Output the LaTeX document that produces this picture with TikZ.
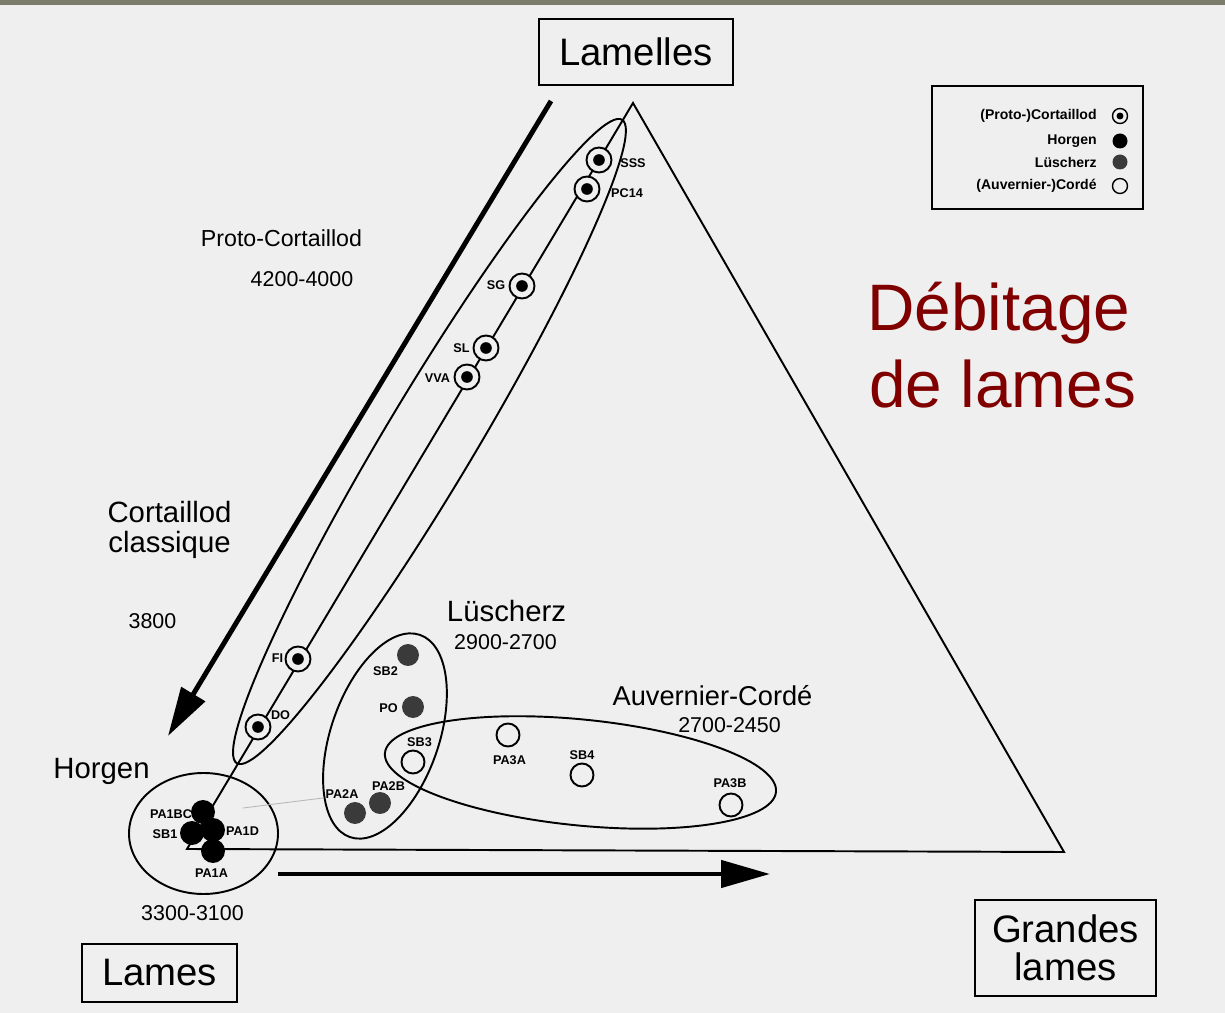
\documentclass[tikz,border=0pt]{standalone}
\usepackage{fontspec}
\setmainfont{Liberation Sans}
\usetikzlibrary{calc}
\usetikzlibrary{arrows.meta}
\usetikzlibrary{positioning}

\definecolor{pagegray}{HTML}{EFEFEF}
\definecolor{bargray}{HTML}{7B7C6C}
\definecolor{darkred}{HTML}{800000}
\definecolor{lusgray}{HTML}{3A3A3A}

\begin{document}
\begin{tikzpicture}[x=0.02cm, y=-0.02cm,
  pole/.style={draw, line width=1.1pt, inner sep=0pt, align=center, font=\fontsize{21.8}{21.5}\selectfont},
  cort/.style={circle, draw, fill=pagegray, line width=1.1pt, inner sep=0pt, minimum size=#1,
    path picture={\fill[black] (path picture bounding box.center) circle (#1/4.3);}},
  cort/.default=0.5cm,
  horg/.style={circle, fill=black, inner sep=0pt, minimum size=#1},
  horg/.default=0.48cm,
  lusc/.style={circle, fill=lusgray, inner sep=0pt, minimum size=#1},
  lusc/.default=0.44cm,
  corde/.style={circle, draw, fill=pagegray, line width=1.1pt, inner sep=0pt, minimum size=#1},
  corde/.default=0.46cm,
  site/.style={inner sep=0pt, font=\bfseries\fontsize{7.2}{8}\selectfont},
  period/.style={inner sep=0pt, anchor=base, font=\fontsize{16.7}{17}\selectfont},
  years/.style={inner sep=0pt, anchor=base, font=\fontsize{12.2}{13}\selectfont},
  legtext/.style={inner sep=0pt, anchor=east, font=\bfseries\fontsize{8}{9}\selectfont},
  zone/.style={line width=1.1pt},
  bigarrow/.style={line width=2.8pt, -{Triangle[length=0.98cm, width=0.54cm]}}]

% page
\fill[pagegray] (0,0) rectangle (1225,1013);
\fill[bargray] (0,0) rectangle (1225,5);
\useasboundingbox (0,0) rectangle (1225,1013);

% triangle
\coordinate (apex) at (633,103);
\coordinate (lame) at (187,849);
\coordinate (grande) at (1064,852);
\draw[line width=1.1pt] (apex) -- (lame) -- (grande) -- cycle;

\node[pole, minimum width=3.88cm, minimum height=1.32cm] (lamelles) at (636,52) {Lamelles};
\node[pole, minimum width=3.1cm, minimum height=1.16cm] (lames) at (159.5,973) {Lames};
\node[pole, minimum width=3.62cm, minimum height=1.92cm] (grandes) at (1065.5,948) {Grandes\\lames};

% groups
\coordinate (protoC) at (429.5,441.5);
\draw[zone, rotate around={59.1:(protoC)}] (protoC) ellipse (375 and 45);
\coordinate (horgC) at (203.5,833.5);
\draw[zone] (horgC) ellipse (74.5 and 60.5);
\coordinate (luscC) at (385,736);
\draw[zone, rotate around={70.9:(luscC)}] (luscC) ellipse (107 and 54);
\coordinate (cordC) at (580.5,772.5);
\draw[zone, rotate around={-5.7:(cordC)}] (cordC) ellipse (196.5 and 53);

\coordinate (faintA) at (243,808);
\coordinate (faintB) at (323,798);
\draw[gray!55, line width=0.5pt] (faintA) -- (faintB);

% arrows
\coordinate (cstart) at (551,101);
\coordinate (cend) at (168,736);
\draw[bigarrow] (cstart) -- (cend);
\coordinate (hstart) at (278,874);
\coordinate (hend) at (770,874);
\draw[bigarrow, line width=2.6pt] (hstart) -- (hend);

% (Proto-)Cortaillod
\node[cort] (SSS) at (599,160) {};
\node[cort] (PC14) at (587,189) {};
\node[cort] (SG) at (522,286) {};
\node[cort] (SL) at (486,348) {};
\node[cort] (VVA) at (467,377) {};
\node[cort] (FI) at (298,659) {};
\node[cort] (DO) at (258,727) {};
\node[site] (SSSl) at ($ (SSS)+(34,3) $) {SSS};
\node[site] (PC14l) at ($ (PC14)+(40,4) $) {PC14};
\node[site] (SGl) at ($ (SG)+(-26,-1) $) {SG};
\node[site] (SLl) at ($ (SL)+(-24.5,0) $) {SL};
\node[site] (VVAl) at ($ (VVA)+(-29.5,1) $) {VVA};
\node[site] (FIl) at ($ (FI)+(-20.5,-1) $) {FI};
\node[site] (DOl) at ($ (DO)+(22.5,-12) $) {DO};

% Horgen
\node[horg] (PA1A) at (213,851) {};
\node[horg] (PA1D) at (213,830) {};
\node[horg] (PA1BC) at (203,812) {};
\node[horg] (SB1) at (192,833) {};
\node[site] (PA1BCl) at ($ (PA1BC)+(-32,2) $) {PA1BC};
\node[site] (SB1l) at ($ (SB1)+(-27,1) $) {SB1};
\node[site] (PA1Dl) at ($ (PA1D)+(29.5,1) $) {PA1D};
\node[site] (PA1Al) at ($ (PA1A)+(-1.5,22) $) {PA1A};

% Lüscherz
\node[lusc] (SB2) at (408,655) {};
\node[lusc] (PO) at (413,707) {};
\node[lusc] (PA2A) at (355,813) {};
\node[lusc] (PA2B) at (380,803) {};
\node[site] (SB2l) at ($ (SB2)+(-22.5,16) $) {SB2};
\node[site] (POl) at ($ (PO)+(-24.5,1) $) {PO};
\node[site] (PA2Al) at ($ (PA2A)+(-13,-19) $) {PA2A};
\node[site] (PA2Bl) at ($ (PA2B)+(8.5,-17) $) {PA2B};

% (Auvernier-)Cordé
\node[corde] (SB3) at (413,762) {};
\node[corde] (PA3A) at (508,735) {};
\node[corde] (SB4) at (582,775) {};
\node[corde] (PA3B) at (731,805) {};
\node[site] (SB3l) at ($ (SB3)+(6.5,-20) $) {SB3};
\node[site] (PA3Al) at ($ (PA3A)+(1.5,25) $) {PA3A};
\node[site] (SB4l) at ($ (SB4)+(0,-20) $) {SB4};
\node[site] (PA3Bl) at ($ (PA3B)+(-1,-22) $) {PA3B};

% periods
\node[period, font=\fontsize{13.2}{14}\selectfont] (protoname) at (281.5,247) {Proto-Cortaillod};
\node[years] (protoyears) at (302,287) {4200-4000};
\node[period, align=center, anchor=center] (classname) at (169.5,530) {Cortaillod\\classique};
\node[years] (classyears) at (152.5,629) {3800};
\node[period] (horgname) at (101.5,778) {Horgen};
\node[years] (horgyears) at (192.5,920) {3300-3100};
\node[period] (luscname) at (506.5,622) {Lüscherz};
\node[years] (luscyears) at (505.5,650) {2900-2700};
\node[period, font=\fontsize{15.5}{16}\selectfont] (cordname) at (712.5,705) {Auvernier-Cordé};
\node[years] (cordyears) at (729.5,732) {2700-2450};

\node[anchor=base west, inner sep=0pt, text=darkred, font=\fontsize{37.4}{40}\selectfont] (debit) at (867,331) {Débitage};
\node[anchor=base west, inner sep=0pt, text=darkred, font=\fontsize{37.4}{40}\selectfont] (delames) at (869,408) {de lames};

% legend
\node[draw, line width=1.1pt, minimum width=4.22cm, minimum height=2.46cm] (legend) at (1037.5,147.5) {};
\node[legtext] (keyA) at (1097,116) {(Proto-)Cortaillod};
\node[legtext] (keyB) at (1097,141) {Horgen};
\node[legtext] (keyC) at (1097,162) {Lüscherz};
\node[legtext] (keyD) at (1097,186) {(Auvernier-)Cordé};
\node[cort=0.3cm, line width=0.8pt] (symA) at (1120,116) {};
\node[horg=0.3cm] (symB) at (1120,141) {};
\node[lusc=0.3cm] (symC) at (1120,162) {};
\node[corde=0.3cm, line width=0.8pt] (symD) at (1120,186) {};
\end{tikzpicture}
\end{document}
